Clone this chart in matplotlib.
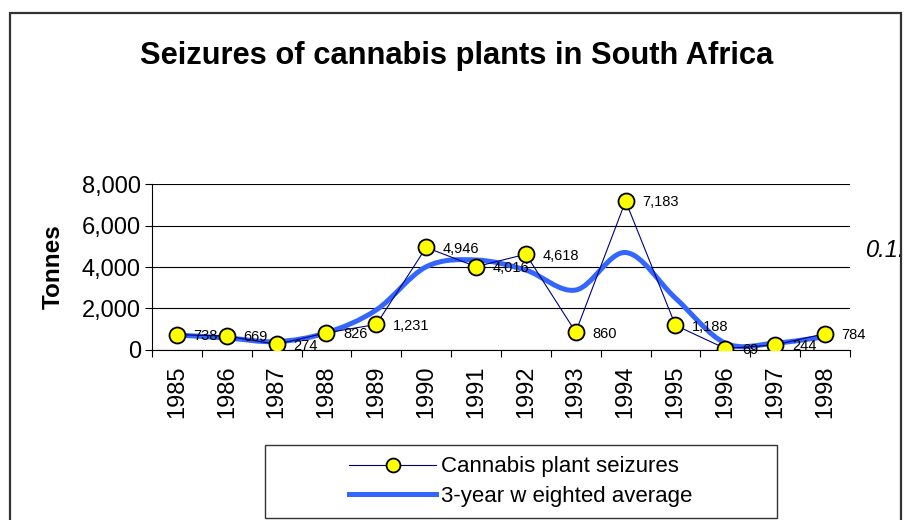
import numpy as np
import matplotlib
matplotlib.use("Agg")
import matplotlib.pyplot as plt
from matplotlib.path import Path
from matplotlib.patches import PathPatch, Rectangle
from matplotlib.lines import Line2D

plt.rcParams['font.family'] = ['Liberation Sans', 'DejaVu Sans']

years = ['1985', '1986', '1987', '1988', '1989', '1990', '1991',
         '1992', '1993', '1994', '1995', '1996', '1997', '1998']
seizures = [738, 669, 274, 826, 1231, 4946, 4016, 4618, 860, 7183, 1188, 69, 244, 784]
# 3-year weighted average (tonnes)
weighted_avg = [720, 580, 400, 830, 1930, 4010, 4340, 3850, 2890, 4700, 2500, 330, 330, 640]

x = np.arange(len(years))

fig = plt.figure(figsize=(9.1, 5.2), dpi=100)
ax = fig.add_axes([0.167, 0.327, 0.767, 0.319])

# smoothed average line: cubic bezier segments through the points
pts = np.column_stack([x, weighted_avg]).astype(float)
ext = np.vstack([pts[0], pts, pts[-1]])
verts = [pts[0]]
codes = [Path.MOVETO]
for i in range(len(pts) - 1):
    p0, p1, p2, p3 = ext[i], ext[i + 1], ext[i + 2], ext[i + 3]
    c1 = p1 + (p2 - p0) / 6.0
    c2 = p2 - (p3 - p1) / 6.0
    verts += [c1, c2, p2]
    codes += [Path.CURVE4] * 3
avg_patch = PathPatch(Path(verts, codes), facecolor='none', edgecolor='#3366ff',
                      lw=3.6, capstyle='round', joinstyle='round', zorder=3)
ax.add_patch(avg_patch)

ax.plot(x, seizures, color='#000080', lw=0.8, marker='o', markersize=11.5,
        markerfacecolor='#ffff00', markeredgecolor='black', markeredgewidth=1.3, zorder=4)

for xi, v in zip(x, seizures):
    ax.annotate(f'{v:,}', (xi, v), xytext=(12, -1), textcoords='offset points',
                ha='left', va='center', fontsize=10.5, zorder=5)

ax.set_xlim(-0.5, len(years) - 0.5)
ax.set_ylim(0, 8000)
ax.set_yticks([0, 2000, 4000, 6000, 8000])
ax.set_yticklabels(['0', '2,000', '4,000', '6,000', '8,000'], fontsize=17)
ax.set_xticks(x)
ax.set_xticklabels(years, rotation=90, fontsize=17)
ax.set_xticks(np.arange(len(years) + 1) - 0.5, minor=True)
ax.tick_params(axis='x', which='major', length=0, pad=11)
ax.tick_params(axis='x', which='minor', length=5, direction='out', width=0.8)
ax.tick_params(axis='y', length=5, width=0.8, pad=3)
ax.yaxis.grid(True, color='black', lw=0.8)
ax.set_axisbelow(True)
for s in ['top', 'right']:
    ax.spines[s].set_visible(False)
ax.spines['left'].set_linewidth(0.8)
ax.spines['bottom'].set_linewidth(0.8)

ax.set_ylabel('Tonnes', fontsize=17.5, fontweight='bold', labelpad=12)

fig.text(0.502, 0.892, 'Seizures of cannabis plants in South Africa',
         ha='center', va='center', fontsize=22.2, fontweight='bold')

# outer chart frame
frame = Rectangle((10 / 910, -0.05), 891 / 910, 1 - 13 / 520 + 0.05,
                  transform=fig.transFigure, fill=False, edgecolor='#333333', lw=1.6,
                  zorder=10)
fig.patches.append(frame)

fig.text(866 / 910, 1 - 250 / 520, '0.1.', fontsize=17, style='italic',
         ha='left', va='center')

# legend box, contents centred inside it
leg_box = Rectangle((265 / 910, 2 / 520), 512 / 910, 73 / 520, transform=fig.transFigure,
                    fill=False, edgecolor='#333333', lw=1.0)
fig.patches.append(leg_box)
handles = [
    Line2D([], [], color='#000080', lw=0.8, marker='o', markersize=10,
           markerfacecolor='#ffff00', markeredgecolor='black', markeredgewidth=1.3),
    Line2D([], [], color='#3366ff', lw=3.6),
]
leg = fig.legend(handles, ['Cannabis plant seizures', '3-year w eighted average'],
                 loc='center', bbox_to_anchor=(265 / 910, 2 / 520, 512 / 910, 73 / 520),
                 fontsize=16, frameon=False,
                 handlelength=3.9, handletextpad=0.25, labelspacing=0.38,
                 borderpad=0, borderaxespad=0)

fig.savefig('out.png', dpi=100)
